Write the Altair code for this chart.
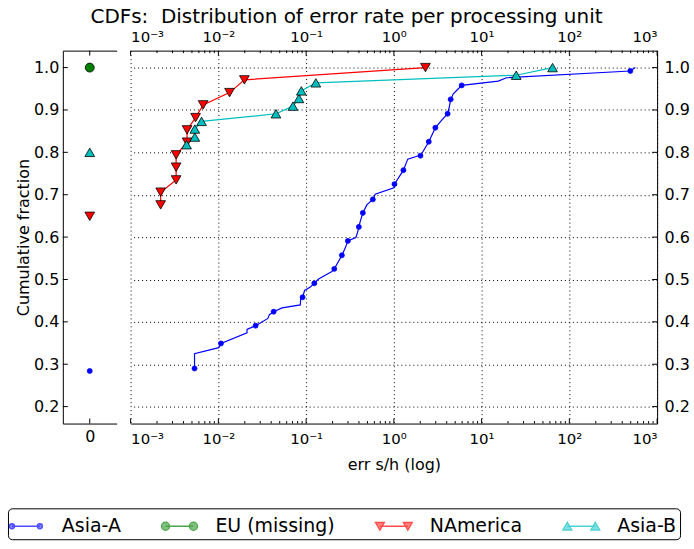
import altair as alt
import pandas as pd

FONT = "DejaVu Sans"

# ---------------- data ----------------
series_names = ["Asia-A", "EU (missing)", "NAmerica", "Asia-B"]
series_colors = ["#0000ff", "#008000", "#ff0000", "#00bfbf"]

# fraction of units with no measurement (left panel, plotted at x = 0)
missing_x = [0, 0, 0, 0]
missing_fraction = [0.284, 1.0, 0.649, 0.80]

asia_a_x = [0.00535, 0.00535, 0.0101, 0.0107, 0.0212, 0.0212, 0.0266, 0.0367, 0.0381, 0.0427,
            0.0531, 0.0859, 0.0865, 0.0912, 0.0961, 0.1116, 0.124, 0.1387, 0.1966, 0.2094,
            0.2344, 0.2555, 0.279, 0.299, 0.369, 0.388, 0.399, 0.414, 0.443, 0.492,
            0.576, 0.613, 1.016, 1.016, 1.285, 1.439, 1.905, 2.01, 2.50, 2.97,
            3.51, 4.10, 4.29, 4.44, 4.76, 5.43, 5.93, 15.5, 19.2, 495, 565]
asia_a_y = [0.290, 0.325, 0.339, 0.349, 0.374, 0.382, 0.391, 0.408, 0.417, 0.424,
            0.433, 0.440, 0.452, 0.458, 0.474, 0.482, 0.491, 0.501, 0.519, 0.525,
            0.543, 0.557, 0.574, 0.591, 0.599, 0.613, 0.624, 0.637, 0.657, 0.676,
            0.689, 0.701, 0.717, 0.725, 0.758, 0.784, 0.792, 0.792, 0.825, 0.858,
            0.876, 0.891, 0.908, 0.925, 0.938, 0.950, 0.958, 0.968, 0.976, 0.992, 1.0]
asia_a_marker = [1, 0, 0, 1, 0, 0, 1, 0, 0, 1,
                 0, 0, 0, 1, 0, 0, 1, 0, 0, 1,
                 0, 1, 0, 1, 0, 0, 1, 0, 1, 0,
                 1, 0, 0, 1, 1, 0, 0, 1, 1, 1,
                 0, 1, 0, 1, 0, 0, 1, 0, 0, 1, 0]

namerica_x = [0.0022, 0.0022, 0.0033, 0.0033, 0.0033, 0.0044, 0.0044, 0.0055, 0.0067, 0.0134, 0.0198, 2.29]
namerica_y = [0.676, 0.706, 0.735, 0.765, 0.794, 0.824, 0.853, 0.882, 0.912, 0.941, 0.971, 1.0]

asia_b_x = [0.00434, 0.00539, 0.00539, 0.00643, 0.0453, 0.0708, 0.0828, 0.0882, 0.129, 24.8, 64.3]
asia_b_y = [0.818, 0.836, 0.855, 0.873, 0.891, 0.909, 0.927, 0.945, 0.964, 0.982, 1.0]

x_major = [0.001, 0.01, 0.1, 1, 10, 100, 1000]
x_major_labels = ["10\u207b\u00b3", "10\u207b\u00b2", "10\u207b\u00b9", "10\u2070", "10\u00b9", "10\u00b2", "10\u00b3"]
x_minor = [m * d for d in [0.001, 0.01, 0.1, 1, 10, 100] for m in range(2, 10)]
y_ticks = [0.2, 0.3, 0.4, 0.5, 0.6, 0.7, 0.8, 0.9, 1.0]
left_x_ticks = [0]

# ---------------- styles ----------------
marker_fill = series_colors
marker_edge = ["#0000ff", "#000000", "#000000", "#000000"]
marker_shape = ["circle", "circle", "triangle-down", "triangle-up"]
marker_size = [25, 81, 95, 95]
legend_paths = [
    "M-1,0L1,0M-1.18,0A0.18,0.18 0 1,0 -0.82,0A0.18,0.18 0 1,0 -1.18,0ZM0.82,0A0.18,0.18 0 1,0 1.18,0A0.18,0.18 0 1,0 0.82,0Z",
    "M-1,0L1,0M-1.29,0A0.29,0.29 0 1,0 -0.71,0A0.29,0.29 0 1,0 -1.29,0ZM0.71,0A0.29,0.29 0 1,0 1.29,0A0.29,0.29 0 1,0 0.71,0Z",
    "M-1,0L1,0M-1.32,-0.27L-0.68,-0.27L-1,0.29ZM0.68,-0.27L1.32,-0.27L1,0.29Z",
    "M-1,0L1,0M-1.32,0.27L-0.68,0.27L-1,-0.29ZM0.68,0.27L1.32,0.27L1,-0.29Z",
]

W_MAIN, W_LEFT, H = 528, 54, 374

yscale = alt.Scale(domain=[0.16, 1.04], nice=False, zero=False)
xscale = alt.Scale(type="log", domain=[0.001, 1000], nice=False)
lscale = alt.Scale(domain=[-0.5, 0.5], nice=False, zero=False)

label_expr = ""
for v, lab in zip(x_major, x_major_labels):
    label_expr += f"datum.value < {v * 2} ? '{lab}' : "
label_expr += "''"

grid_kw = dict(grid=True, gridColor="black", gridDash=[1, 3], gridWidth=1, gridOpacity=1)

# ---------------- main (log) panel ----------------
main_layers = []
lines = [(asia_a_x, asia_a_y, 0), (namerica_x, namerica_y, 2), (asia_b_x, asia_b_y, 3)]
first = True
for xs, ys, i in lines:
    df = pd.DataFrame({"x": xs, "y": ys, "i": range(len(xs))})
    if first:
        xa = alt.Axis(orient="bottom", values=x_major, labelExpr=label_expr, title="err s/h (log)",
                      ticks=False, domain=True, labelPadding=8, labelFontSize=15,
                      titlePadding=10, **grid_kw)
        ya = alt.Axis(orient="right", values=y_ticks, format=".1f", title=None, ticks=False,
                      domain=True, labelPadding=7, **grid_kw)
        first = False
    else:
        xa = None
        ya = None
    main_layers.append(
        alt.Chart(df).mark_line(color=series_colors[i], strokeWidth=1.2).encode(
            x=alt.X("x:Q", scale=xscale, axis=xa),
            y=alt.Y("y:Q", scale=yscale, axis=ya),
            order="i:Q",
        )
    )

pts = [(asia_a_x, asia_a_y, asia_a_marker, 0),
       (namerica_x, namerica_y, [1] * len(namerica_x), 2),
       (asia_b_x, asia_b_y, [1] * len(asia_b_x), 3)]
for xs, ys, flags, i in pts:
    df = pd.DataFrame({"x": xs, "y": ys, "m": flags})
    main_layers.append(
        alt.Chart(df).transform_filter("datum.m == 1").mark_point(
            filled=True, fill=marker_fill[i], stroke=marker_edge[i], strokeWidth=0.8,
            shape=marker_shape[i], size=marker_size[i], opacity=1
        ).encode(
            x=alt.X("x:Q", scale=xscale, axis=None),
            y=alt.Y("y:Q", scale=yscale, axis=None),
        )
    )

# tick marks (inward, matplotlib style)
maj = pd.DataFrame({"v": x_major})
mnr = pd.DataFrame({"v": x_minor})
yt = pd.DataFrame({"v": y_ticks})
top_axis = alt.Axis(orient="top", values=x_major, labelExpr=label_expr, title=None, ticks=False,
                    domain=True, grid=False, labelPadding=6, labelFontSize=15)
main_layers.append(alt.Chart(maj).mark_rule(color="black").encode(
    x=alt.X("v:Q", scale=xscale, axis=top_axis), y=alt.value(0), y2=alt.value(5)))
main_layers.append(alt.Chart(maj).mark_rule(color="black").encode(
    x=alt.X("v:Q", scale=xscale, axis=None), y=alt.value(H), y2=alt.value(H - 5)))
main_layers.append(alt.Chart(mnr).mark_rule(color="black").encode(
    x=alt.X("v:Q", scale=xscale, axis=None), y=alt.value(0), y2=alt.value(2.5)))
main_layers.append(alt.Chart(mnr).mark_rule(color="black").encode(
    x=alt.X("v:Q", scale=xscale, axis=None), y=alt.value(H), y2=alt.value(H - 2.5)))
main_layers.append(alt.Chart(yt).mark_rule(color="black").encode(
    y=alt.Y("v:Q", scale=yscale, axis=None), x=alt.value(W_MAIN - 5), x2=alt.value(W_MAIN)))

# legend (drawn from the series scale; no marks of its own)
leg = alt.Legend(title=None, orient="none", legendX=-55, legendY=459, direction="horizontal",
                 columns=4, labelFont=FONT, labelFontSize=19, labelColor="black",
                 symbolSize=784, symbolStrokeWidth=1.3, strokeColor="black", cornerRadius=4,
                 padding=3, fillColor="white", columnPadding=37, labelOffset=21)
legend_df = pd.DataFrame({"series": series_names})
main_layers.append(
    alt.Chart(legend_df).transform_filter("false").mark_point(filled=True).encode(
        fill=alt.Fill("series:N", scale=alt.Scale(domain=series_names, range=series_colors), legend=leg),
        stroke=alt.Stroke("series:N", scale=alt.Scale(domain=series_names, range=series_colors), legend=leg),
        shape=alt.Shape("series:N", scale=alt.Scale(domain=series_names, range=legend_paths), legend=leg),
    )
)

main = alt.layer(*main_layers).resolve_axis(x="independent", y="independent").properties(
    width=W_MAIN, height=H)

# ---------------- left (missing) panel ----------------
left_layers = []
for i in range(4):
    df = pd.DataFrame({"x": [missing_x[i]], "y": [missing_fraction[i]]})
    if i == 0:
        xa = alt.Axis(orient="bottom", values=left_x_ticks, format="d", title=None, ticks=False,
                      domain=True, grid=False, labelPadding=5)
        ya = alt.Axis(orient="left", values=y_ticks, format=".1f", title="Cumulative fraction",
                      ticks=False, domain=True, grid=False, labelPadding=4, titlePadding=2)
    else:
        xa = None
        ya = None
    left_layers.append(
        alt.Chart(df).mark_point(
            filled=True, fill=marker_fill[i], stroke=marker_edge[i], strokeWidth=0.8,
            shape=marker_shape[i], size=marker_size[i], opacity=1
        ).encode(
            x=alt.X("x:Q", scale=lscale, axis=xa),
            y=alt.Y("y:Q", scale=yscale, axis=ya),
        )
    )
lx = pd.DataFrame({"v": left_x_ticks})
left_top_axis = alt.Axis(orient="top", values=left_x_ticks, labels=False, title=None, ticks=False,
                         domain=True, grid=False)
left_layers.append(alt.Chart(lx).mark_rule(color="black").encode(
    x=alt.X("v:Q", scale=lscale, axis=left_top_axis), y=alt.value(0), y2=alt.value(5)))
left_layers.append(alt.Chart(lx).mark_rule(color="black").encode(
    x=alt.X("v:Q", scale=lscale, axis=None), y=alt.value(H), y2=alt.value(H - 5)))
left_layers.append(alt.Chart(yt).mark_rule(color="black").encode(
    y=alt.Y("v:Q", scale=yscale, axis=None), x=alt.value(0), x2=alt.value(5)))

left = alt.layer(*left_layers).resolve_axis(x="independent", y="independent").properties(
    width=W_LEFT, height=H)

chart = alt.hconcat(left, main, spacing=13).resolve_scale(
    fill="shared", stroke="shared", shape="shared"
).resolve_legend(fill="shared", stroke="shared", shape="shared").properties(
    title=alt.TitleParams("CDFs:\u00a0 Distribution of error rate per processing unit",
                          font=FONT, fontSize=20, fontWeight="normal", color="black",
                          anchor="middle", offset=3, dx=-2),
    padding={"left": 7, "top": 6, "right": 4, "bottom": 1},
    background="white",
).configure_view(strokeWidth=0).configure_axis(
    labelFont=FONT, labelFontSize=16, labelColor="black", titleFont=FONT, titleFontSize=16,
    titleColor="black", titleFontWeight="normal", domainColor="black", domainWidth=1,
)

chart.save("out.html", embed_options={"renderer": "svg", "actions": False})
